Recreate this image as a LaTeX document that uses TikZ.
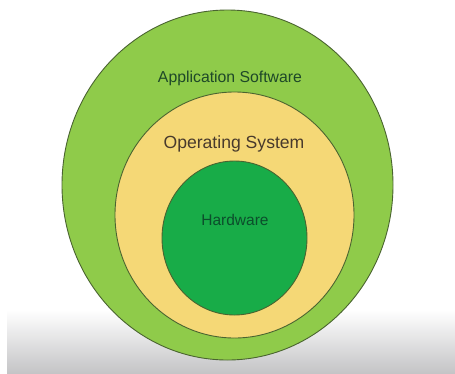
\documentclass[tikz,border=0pt]{standalone}
\usepackage{fontspec}
\setmainfont{Liberation Sans}
\begin{document}
\definecolor{appgreen}{RGB}{143,203,74}
\definecolor{osyellow}{RGB}{245,216,118}
\definecolor{hwgreen}{RGB}{24,172,72}
\definecolor{rimline}{RGB}{74,100,48}
\definecolor{apptext}{RGB}{30,72,40}
\definecolor{ostext}{RGB}{72,58,44}
\definecolor{hwtext}{RGB}{12,78,44}
\definecolor{bandgray}{RGB}{196,196,198}
\begin{tikzpicture}[x=1pt,y=-1pt,
  layer/.style={draw=rimline,line width=0.9pt},
  lbl/.style={inner sep=0pt,anchor=center}]
  % canvas
  \fill[white] (0,0) rectangle (455,373);
  \useasboundingbox (0,0) rectangle (455,373);
  % shaded strip along the bottom
  \shade[top color=white,bottom color=bandgray] (7,310) rectangle (455,373);
  % nested layers
  \draw[layer,fill=appgreen] (227.5,185) ellipse [x radius=165.5,y radius=175];
  \draw[layer,fill=osyellow] (234.5,215) ellipse [x radius=119.5,y radius=123];
  \draw[layer,fill=hwgreen] (234.5,238) ellipse [x radius=72.5,y radius=77];
  % labels
  \node[lbl,text=apptext,font=\fontsize{15.8}{17}\selectfont] (app) at (230,78) {Application Software};
  \node[lbl,text=ostext,font=\fontsize{17.6}{19}\selectfont] (os) at (234,144) {Operating System};
  \node[lbl,text=hwtext,font=\fontsize{15.5}{17}\selectfont] (hw) at (235,220) {Hardware};
\end{tikzpicture}
\end{document}
